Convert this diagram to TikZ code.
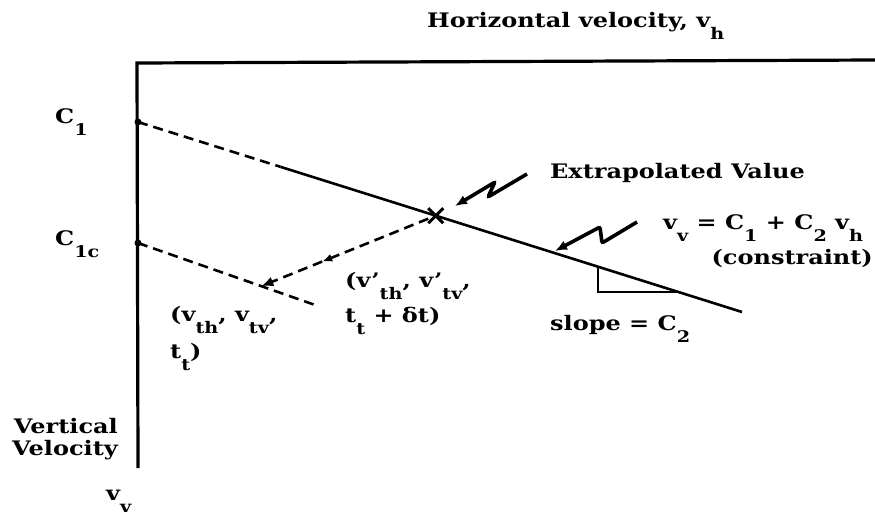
\documentclass[tikz,border=0pt]{standalone}
\usepackage{fontspec}
\setmainfont{DejaVu Serif}[FakeStretch=1.2]
\usetikzlibrary{arrows.meta, calc, shapes.misc}
\newcommand\lowsub[1]{\raisebox{-12pt}{\fontsize{16}{16}\selectfont #1}}
\tikzset{
  axisline/.style={line width=3.2pt},
  cline/.style={line width=2.6pt},
  dashline/.style={line width=2.6pt, dash pattern=on 10pt off 6pt},
  squig/.style={line width=3.6pt, rounded corners=2pt, -{Latex[length=12pt,width=10pt]}},
  lbl/.style={inner sep=0pt, font=\bfseries\fontsize{20}{22}\selectfont},
}
\begin{document}
\begin{tikzpicture}[x=1pt, y=-1pt]
  \useasboundingbox (0,0) rectangle (875,517);
  % axes
  \coordinate (orig) at (137,63);
  \coordinate (hend) at (875,60);
  \coordinate (vend) at (138,468);
  \draw[axisline] (hend) -- (orig) -- (vend);
  \node[lbl, anchor=base west] (hlabel) at (427,27) {Horizontal velocity, v\lowsub{h}};
  \node[lbl, anchor=base east, align=right] (vlabel) at (118,455) {Vertical\\Velocity};
  \node[lbl, anchor=base west] (vsym) at (106,500) {v\lowsub{v}};
  % intercepts
  \coordinate (c1) at (138,122);
  \coordinate (c1c) at (138,243);
  \fill (c1) circle (3.5pt) (c1c) circle (3.5pt);
  \node[lbl, anchor=base west] (c1lbl) at (55,123) {C\lowsub{1}};
  \node[lbl, anchor=base west] (c1clbl) at (55,245) {C\lowsub{1c}};
  % constraint line
  \coordinate (lend) at (742,312);
  \coordinate (brk) at ($(c1)!0.236!(lend)$);
  \node[cross out, draw, line width=3pt, minimum size=12pt, inner sep=0pt] (xmark) at ($(c1)!0.493!(lend)$) {};
  \draw[dashline] (c1) -- (brk);
  \draw[cline] (brk) -- (lend);
  % slope triangle
  \coordinate (tri1) at ($(c1)!0.761!(lend)$);
  \coordinate (tri2) at ($(c1)!0.893!(lend)$);
  \draw[line width=2.2pt] (tri1) |- (tri2);
  % trajectory
  \coordinate (cend) at (318,306);
  \coordinate (pt) at ($(c1c)!0.685!(cend)$);
  \coordinate (mid) at ($(xmark)!0.651!(pt)$);
  \draw[dashline] (c1c) -- (cend);
  \draw[dashline, -{Latex[length=10pt,width=8pt]}] (xmark) -- (mid);
  \draw[dashline, -{Latex[length=12pt,width=10pt]}] (mid) -- (pt);
  \node[lbl, anchor=base west, align=left] (ptlbl) at (170,358) {(v\lowsub{th}, v\lowsub{tv},\\[8pt]t\lowsub{t})};
  \node[lbl, anchor=base west, align=left] (xlbl) at (345,322) {(v'\lowsub{th}, v'\lowsub{tv},\\[6pt] t\lowsub{t} + δt)};
  % pointers
  \coordinate (sq1a) at (527,174);
  \coordinate (sq1b) at (488,197);
  \coordinate (sq1c) at (495,182);
  \coordinate (sq1d) at (455,206);
  \draw[squig] (sq1a) -- (sq1b) -- (sq1c) -- (sq1d);
  \coordinate (sq2a) at (637,222);
  \coordinate (sq2b) at (602,243);
  \coordinate (sq2c) at (600,227);
  \coordinate (sq2d) at (555,251);
  \draw[squig] (sq2a) -- (sq2b) -- (sq2c) -- (sq2d);
  \node[lbl, anchor=base west] (extlbl) at (550,178) {Extrapolated Value};
  \node[lbl, anchor=base west] (eqlbl) at (663,229) {v\lowsub{v} = C\lowsub{1} + C\lowsub{2} v\lowsub{h}};
  \node[lbl, anchor=base east] (conlbl) at (873,264) {(constraint)};
  \node[lbl, anchor=base west] (slopelbl) at (550,330) {slope = C\lowsub{2}};
\end{tikzpicture}
\end{document}
